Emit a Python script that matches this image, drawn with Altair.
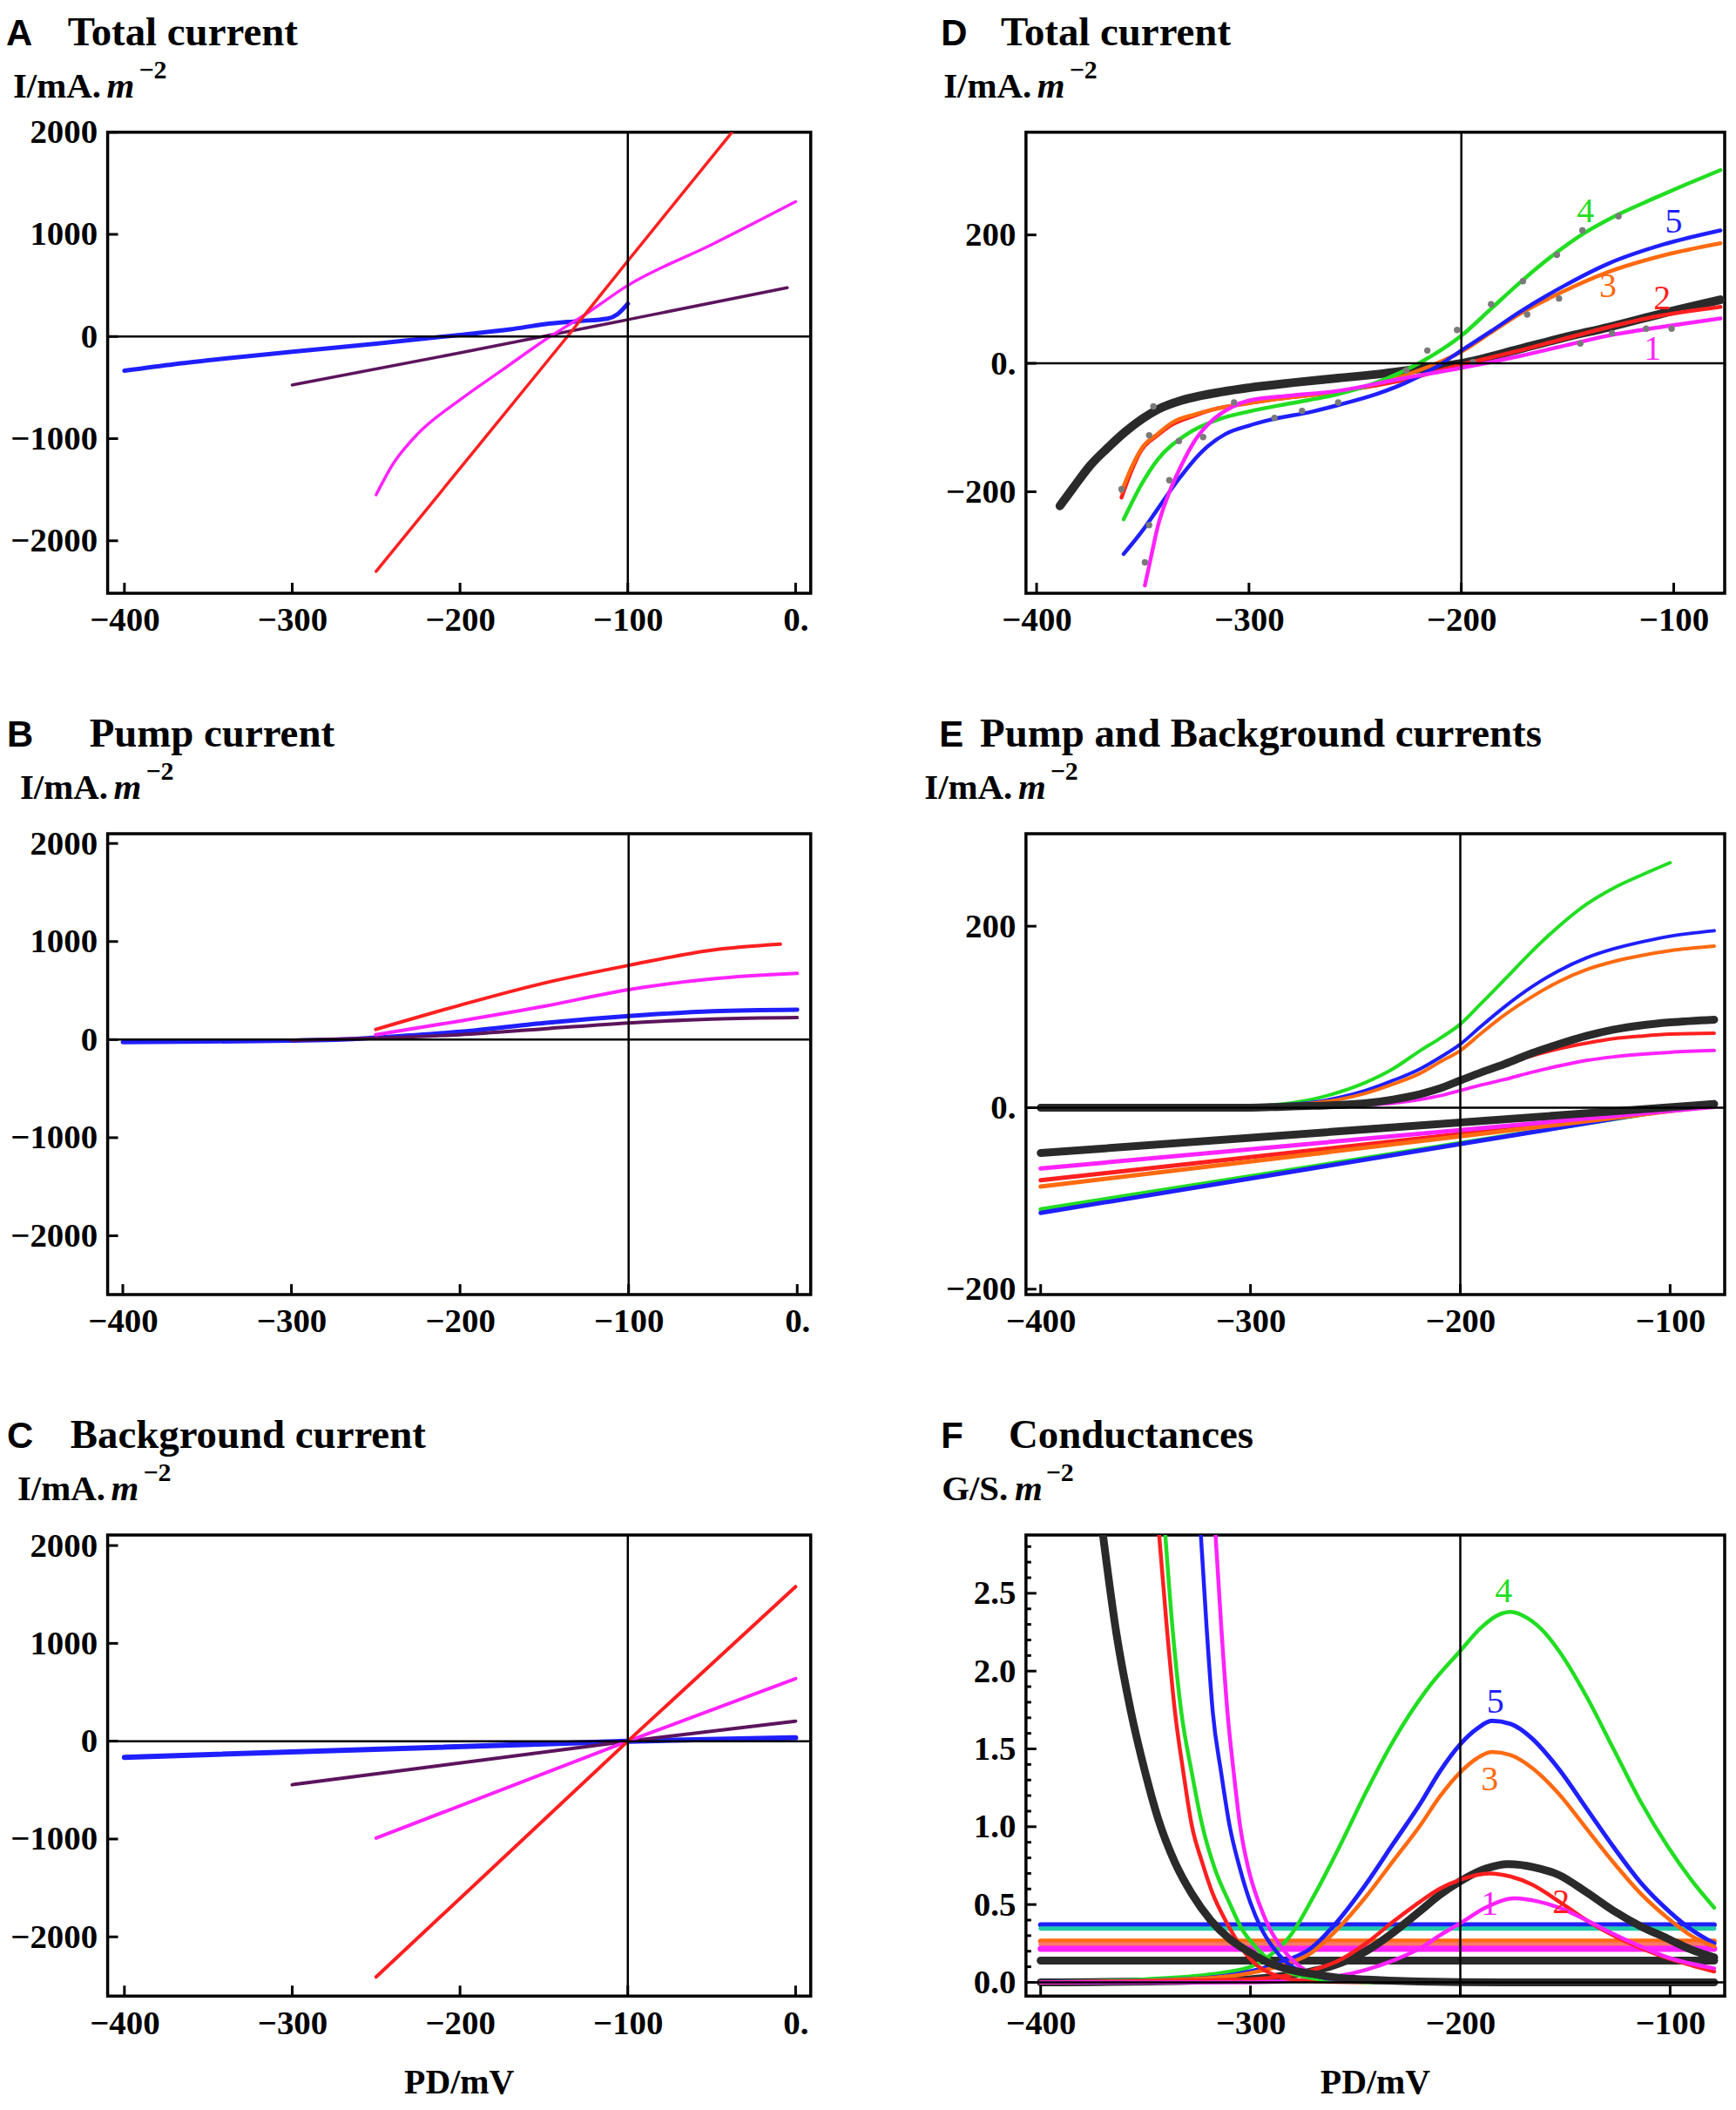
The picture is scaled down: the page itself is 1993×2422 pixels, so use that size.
import altair as alt
import pandas as pd

SERIF = "Liberation Serif"
SANS = "Liberation Sans"

RED = "#ff1f1f"
MAGENTA = "#ff22ff"
BLUE = "#1f1fff"
PURPLE = "#5c145c"
GREEN = "#22dd22"
ORANGE = "#ff6a10"
DARK = "#2a2a2a"
DOTC = "#7a7a7a"

H = 531
W_LEFT = 810
W_RIGHT = 805

# ---------------- Panel A : Total current ----------------
A_blue_x = [-400, -370, -340, -300, -250, -200, -170, -150, -130, -112, -106, -100]
A_blue_y = [-335, -270, -215, -150, -70, 15, 70, 120, 150, 175, 220, 320]
A_purple_x = [-300, -200, -100, -5]
A_purple_y = [-475, -160, 165, 478]
A_magenta_x = [-250, -240, -225, -200, -175, -150, -125, -100, -50, 0]
A_magenta_y = [-1550, -1250, -950, -620, -330, -40, 220, 500, 900, 1320]
A_red_x = [-250, -136, -100, -30]
A_red_y = [-2300, 0, 740, 2160]

# ---------------- Panel B : Pump current ----------------
B_blue_x = [-400, -350, -300, -270, -250, -200, -150, -100, -50, 0]
B_blue_y = [-25, -20, -10, 0, 20, 80, 170, 240, 290, 305]
B_purple_x = [-300, -250, -200, -150, -100, -50, 0]
B_purple_y = [-5, 15, 50, 110, 170, 210, 225]
B_magenta_x = [-250, -200, -150, -100, -50, 0]
B_magenta_y = [50, 190, 340, 510, 620, 675]
B_red_x = [-250, -200, -150, -100, -50, -10]
B_red_y = [104, 351, 577, 757, 914, 973]

# ---------------- Panel C : Background current ----------------
C_blue_x = [-400, -100, 0]
C_blue_y = [-165, 0, 35]
C_purple_x = [-300, -100, 0]
C_purple_y = [-445, 0, 205]
C_magenta_x = [-250, -100, 0]
C_magenta_y = [-990, 0, 640]
C_red_x = [-250, -100, 0]
C_red_y = [-2410, 0, 1580]

# ---------------- Panel D : Total current (cells 1-5) ----------------
D_black_x = [-389, -383, -375, -366, -358, -350, -343, -332, -322, -300, -279, -258, -237, -216,
             -200, -173, -152, -131, -105, -78]
D_black_y = [-222, -195, -160, -130, -106, -86, -72, -58, -50, -38, -30, -23, -16, -7,
             0, 22, 40, 56, 78, 99]
D_red_x = [-360, -355, -351, -343, -336, -326, -317, -300, -290, -258, -226, -200, -175, -152,
           -131, -110, -78]
D_red_y = [-209, -165, -137, -112, -95, -82, -72, -62, -57, -44, -25, -2, 18, 38, 56, 72, 88]
D_orange_x = [-360, -355, -350, -343, -336, -326, -317, -300, -290, -258, -240, -226, -213, -200,
              -186, -173, -152, -131, -105, -78]
D_orange_y = [-200, -160, -130, -110, -92, -80, -72, -62, -57, -44, -32, -18, -2, 18,
              48, 76, 112, 142, 168, 187]
D_green_x = [-359, -350, -343, -330, -315, -300, -280, -258, -240, -220, -200, -186, -173, -157,
             -142, -126, -110, -94, -78]
D_green_y = [-243, -185, -150, -112, -88, -75, -62, -48, -30, 0, 43, 85, 124, 168,
             203, 232, 256, 279, 301]
D_blue_x = [-359, -350, -343, -333, -322, -311, -300, -290, -270, -258, -240, -226, -213, -200,
            -186, -173, -152, -131, -105, -78]
D_blue_y = [-297, -260, -227, -180, -137, -110, -97, -88, -75, -65, -48, -30, -8, 20,
            50, 79, 120, 155, 185, 207]
D_magenta_x = [-349, -346, -343, -338, -332, -325, -317, -308, -300, -280, -258, -230, -200,
               -173, -152, -131, -105, -78]
D_magenta_y = [-346, -300, -255, -205, -160, -118, -88, -68, -58, -50, -43, -25, -7,
               11, 27, 43, 57, 70]
D_dots_x = [-347, -333, -337.5, -347, -349, -360, -321.6, -345, -307, -288, -275, -258,
            -216, -202, -186, -171, -155, -143, -126, -169, -154, -144, -129, -113, -101, -194.5, -226]
D_dots_y = [-112, -121, -182, -252, -310, -196, -115, -67, -61, -85, -74, -61,
            20, 52, 92, 128, 169, 207, 229, 76, 101, 31, 47, 54, 54, 2, -11]
D_lab_t = ["1", "2", "3", "4", "5"]
D_lab_x = [-110, -105.5, -131, -141.5, -100]
D_lab_y = [22, 101, 119, 236, 220]

# ---------------- Panel E : Pump and Background currents ----------------
E_p_green_x = [-400, -320, -300, -285, -271, -258, -245, -232, -219, -210, -200, -190, -179,
               -166, -153, -140, -127, -113, -100]
E_p_green_y = [0, 0, 1, 4, 9, 17, 28, 43, 63, 76, 92, 115, 141, 172, 200, 224, 242, 257, 270]
E_p_x = [-400, -320, -300, -285, -270, -258, -245, -232, -219, -210, -200, -190, -179,
         -166, -153, -140, -127, -113, -100, -79]
E_p_blue_y = [0, 0, 1, 3, 6, 11, 19, 30, 43, 55, 70, 90, 111, 133, 151, 165, 175, 183, 189, 195]
E_p_orange_y = [0, 0, 1, 2, 5, 9, 16, 26, 38, 50, 63, 82, 102, 122, 139, 152, 161, 168, 173, 178]
E_p_black_y = [0, 0, 0, 1, 2, 3, 5, 9, 15, 21, 30, 39, 48, 60, 70, 79, 86, 91, 94, 97]
E_p_red_y = [0, 0, 0, 1, 2, 3, 5, 9, 15, 21, 30, 38, 47, 57, 65, 71, 76, 79, 81, 82]
E_p_magenta_y = [0, 0, 0, 0, 1, 1.5, 3, 5, 9, 13, 19, 25, 31, 39, 46, 52, 56, 59, 61, 63]
E_b_x = [-400, -79]
E_b_black_y = [-50, 4]
E_b_magenta_y = [-67, 1]
E_b_red_y = [-80, 2]
E_b_orange_y = [-87, 2]
E_b_green_y = [-112, 5]
E_b_blue_y = [-116, 6]

# ---------------- Panel F : Conductances ----------------
F_e_black_x = [-371, -364, -357, -350, -344, -336, -328, -319, -310, -300, -292, -281, -271,
               -258, -245, -220, -180, -79]
F_e_black_y = [2.95, 2.25, 1.74, 1.34, 1.05, 0.77, 0.57, 0.40, 0.28, 0.19, 0.13, 0.08, 0.055,
               0.03, 0.018, 0.006, 0.0, 0.0]
F_e_red_x = [-344, -340, -336, -332, -328, -323, -318, -312, -307, -302, -297, -289, -281,
             -265, -240, -79]
F_e_red_y = [2.95, 2.3, 1.74, 1.35, 1.01, 0.77, 0.57, 0.40, 0.28, 0.18, 0.11, 0.05, 0.02,
             0.005, 0.0, 0.0]
F_e_green_x = [-341, -337, -333, -328, -323, -317, -310, -304, -297, -289, -281, -270, -258,
               -240, -79]
F_e_green_y = [2.95, 2.25, 1.74, 1.35, 1.01, 0.73, 0.51, 0.34, 0.22, 0.12, 0.06, 0.025, 0.01,
               0.0, 0.0]
F_e_blue_x = [-324, -321, -318, -314, -310, -305, -300, -295, -289, -283, -276, -267, -258,
              -240, -79]
F_e_blue_y = [2.95, 2.3, 1.74, 1.35, 1.01, 0.73, 0.51, 0.35, 0.22, 0.13, 0.07, 0.035, 0.015,
              0.003, 0.0]
F_e_magenta_x = [-317, -314, -311, -308, -305, -301, -296, -291, -285, -279, -273, -265, -258,
                 -240, -79]
F_e_magenta_y = [2.95, 2.3, 1.74, 1.35, 1.01, 0.73, 0.51, 0.35, 0.22, 0.13, 0.07, 0.035, 0.015,
                 0.003, 0.0]

F_b_green_x = [-400, -350, -320, -300, -290, -281, -270, -258, -245, -232, -216, -200, -190,
               -182, -176, -168, -160, -153, -140, -127, -114, -101, -90, -79]
F_b_green_y = [0.0, 0.02, 0.05, 0.10, 0.18, 0.30, 0.55, 0.86, 1.22, 1.55, 1.88, 2.13, 2.28,
               2.36, 2.38, 2.34, 2.25, 2.13, 1.84, 1.50, 1.16, 0.87, 0.66, 0.48]
F_b_x = [-400, -330, -300, -285, -271, -258, -245, -232, -219, -210, -200, -192, -185, -176,
         -166, -153, -140, -127, -114, -100, -90, -79]
F_b_blue_y = [0.0, 0.02, 0.07, 0.13, 0.22, 0.40, 0.63, 0.89, 1.15, 1.35, 1.53, 1.63, 1.68,
              1.66, 1.57, 1.37, 1.12, 0.87, 0.64, 0.45, 0.34, 0.25]
F_b_orange_y = [0.0, 0.02, 0.06, 0.11, 0.19, 0.35, 0.55, 0.78, 1.01, 1.19, 1.35, 1.44, 1.48,
                1.46, 1.38, 1.21, 0.99, 0.77, 0.57, 0.40, 0.30, 0.23]
F_b_black_x = [-400, -330, -300, -285, -271, -258, -245, -232, -219, -210, -200, -188, -177,
               -165, -153, -140, -127, -114, -101, -90, -79]
F_b_black_y = [0.0, 0.01, 0.02, 0.04, 0.07, 0.12, 0.20, 0.32, 0.46, 0.56, 0.65, 0.73, 0.76,
               0.74, 0.69, 0.58, 0.46, 0.36, 0.28, 0.21, 0.16]
F_b_red_x = [-400, -300, -280, -270, -258, -245, -232, -219, -210, -200, -186, -176, -166,
             -153, -140, -127, -114, -100, -90, -79]
F_b_red_y = [0.0, 0.02, 0.05, 0.08, 0.14, 0.25, 0.39, 0.52, 0.60, 0.66, 0.70, 0.68, 0.63,
             0.52, 0.40, 0.30, 0.22, 0.15, 0.11, 0.07]
F_b_magenta_x = [-400, -300, -270, -258, -245, -232, -219, -210, -200, -188, -174, -163, -153,
                 -140, -127, -114, -101, -90, -79]
F_b_magenta_y = [0.0, 0.0, 0.02, 0.04, 0.08, 0.14, 0.22, 0.30, 0.38, 0.48, 0.54, 0.52, 0.48,
                 0.40, 0.31, 0.23, 0.16, 0.12, 0.09]
F_h_x = [-400, -79]
F_h_blue = 0.37
F_h_green = 0.345
F_h_orange = 0.265
F_h_red = 0.245
F_h_magenta = 0.215
F_h_black = 0.14
F_lab_t = ["4", "5", "3", "1", "2"]
F_lab_x = [-179.4, -183.3, -186, -186, -152]
F_lab_y = [2.51, 1.80, 1.30, 0.50, 0.51]

# tick values
XT_A = [-400, -300, -200, -100, 0]
YT_A = [-2000, -1000, 0, 1000, 2000]
XT_D = [-400, -300, -200, -100]
YT_D = [-200, 0, 200]
YT_F = [0.0, 0.5, 1.0, 1.5, 2.0, 2.5]
YT_F_MINOR = [0.1, 0.2, 0.3, 0.4, 0.6, 0.7, 0.8, 0.9, 1.1, 1.2, 1.3, 1.4, 1.6, 1.7, 1.8, 1.9,
              2.1, 2.2, 2.3, 2.4, 2.6, 2.7, 2.8]


def mk_axis(values, fmt, zero_dot, pad):
    kw = dict(values=values, format=fmt, ticks=False, domain=False, grid=False,
              labelFont=SERIF, labelFontSize=39, labelFontWeight="bold", labelColor="black",
              labelPadding=pad, title=None, labelOverlap=False, labelFlush=False)
    if zero_dot:
        kw["labelExpr"] = "datum.value == 0 ? '0.' : datum.label"
    return alt.Axis(**kw)


def txt(s, x, y, size, font=SERIF, weight="bold", style="normal", align="left", color="black"):
    return alt.Chart(pd.DataFrame({"t": [s]})).mark_text(
        font=font, fontSize=size, fontWeight=weight, fontStyle=style, align=align,
        baseline="alphabetic", color=color
    ).encode(x=alt.value(x), y=alt.value(y), text="t:N")


def headers(letter, lx, title, tx, ylab, yx, W, xlabel=False):
    out = [txt(letter, lx, -100, 42, font=SANS),
           txt(title, tx, -100, 47)]
    if ylab.startswith("G"):
        dm, ds = 84, 120
    else:
        dm, ds = 108, 145
    out += [txt(ylab, yx, -40, 41),
            txt("m", yx + dm, -40, 41, style="italic"),
            txt("\u22122", yx + ds, -62, 30)]
    if xlabel:
        out.append(txt("PD/mV", W / 2, H + 112, 40, align="center"))
    return out


def panel(W, xdom, ydom, xt, yt, x0, series, yfmt, xzero, yzero, heads,
          minor=None, dots=None, notes=None, top=None):
    xs = alt.Scale(domain=xdom, nice=False, zero=False)
    ys = alt.Scale(domain=ydom, nice=False, zero=False)
    xax = mk_axis(xt, "d", xzero, 12)
    yax = mk_axis(yt, yfmt, yzero, 12)

    def X():
        return alt.X("x:Q", scale=xs, axis=xax)

    def Y():
        return alt.Y("y:Q", scale=ys, axis=yax)

    def lines(ss):
        out = []
        for xv, yv, col, w in ss:
            out.append(
                alt.Chart(pd.DataFrame({"x": xv, "y": yv})).mark_line(
                    color=col, strokeWidth=w, clip=True, interpolate="monotone", strokeCap="round"
                ).encode(x=X(), y=Y())
            )
        return out

    layers = lines(series)
    if dots is not None:
        layers.append(
            alt.Chart(pd.DataFrame({"x": dots[0], "y": dots[1]})).mark_circle(
                color=DOTC, size=55, opacity=1, clip=True
            ).encode(x=X(), y=Y())
        )
    if top is not None:
        layers += lines(top)
    # axes through the origin
    layers.append(alt.Chart(pd.DataFrame({"x": [x0]})).mark_rule(color="black", strokeWidth=2.5)
                  .encode(x=X()))
    layers.append(alt.Chart(pd.DataFrame({"y": [0]})).mark_rule(color="black", strokeWidth=2.5)
                  .encode(y=Y()))
    # inward frame ticks
    layers.append(alt.Chart(pd.DataFrame({"x": xt})).mark_rule(color="black", strokeWidth=3)
                  .encode(x=X(), y=alt.value(H), y2=alt.value(H - 12)))
    layers.append(alt.Chart(pd.DataFrame({"y": yt})).mark_rule(color="black", strokeWidth=3)
                  .encode(y=Y(), x=alt.value(0), x2=alt.value(12)))
    if minor is not None:
        layers.append(alt.Chart(pd.DataFrame({"y": minor})).mark_rule(color="black", strokeWidth=3)
                      .encode(y=Y(), x=alt.value(0), x2=alt.value(6)))
    if notes is not None:
        for t, nx, ny, col in notes:
            layers.append(
                alt.Chart(pd.DataFrame({"x": [nx], "y": [ny], "t": [t]})).mark_text(
                    font=SERIF, fontSize=40, color=col, align="center", baseline="middle"
                ).encode(x=X(), y=Y(), text="t:N")
            )
    layers += heads
    return alt.layer(*layers).properties(width=W, height=H)


A = panel(W_LEFT, [-410, 9], [-2513, 2000], XT_A, YT_A, -100,
          [(A_blue_x, A_blue_y, BLUE, 5), (A_purple_x, A_purple_y, PURPLE, 3.5),
           (A_magenta_x, A_magenta_y, MAGENTA, 3.5), (A_red_x, A_red_y, RED, 3.5)],
          "d", True, False,
          headers("A", -117, "Total current", -46, "I/mA.", -109, W_LEFT))

B = panel(W_LEFT, [-409, 8], [-2600, 2100], XT_A, YT_A, -100,
          [(B_blue_x, B_blue_y, BLUE, 5), (B_purple_x, B_purple_y, PURPLE, 4),
           (B_magenta_x, B_magenta_y, MAGENTA, 4), (B_red_x, B_red_y, RED, 4)],
          "d", True, False,
          headers("B", -116, "Pump current", -21, "I/mA.", -101, W_LEFT))

C = panel(W_LEFT, [-410, 9], [-2605, 2107], XT_A, YT_A, -100,
          [(C_blue_x, C_blue_y, BLUE, 6), (C_purple_x, C_purple_y, PURPLE, 4),
           (C_magenta_x, C_magenta_y, MAGENTA, 4), (C_red_x, C_red_y, RED, 4)],
          "d", True, False,
          headers("C", -116, "Background current", -43, "I/mA.", -104, W_LEFT, xlabel=True))

D = panel(W_RIGHT, [-405, -76], [-358, 360], XT_D, YT_D, -200,
          [(D_black_x, D_black_y, DARK, 10), (D_red_x, D_red_y, RED, 4.5),
           (D_orange_x, D_orange_y, ORANGE, 4.5), (D_green_x, D_green_y, GREEN, 4.5),
           (D_blue_x, D_blue_y, BLUE, 4.5), (D_magenta_x, D_magenta_y, MAGENTA, 4.5)],
          "d", False, True,
          headers("D", -98, "Total current", -29, "I/mA.", -95, W_RIGHT),
          dots=(D_dots_x, D_dots_y),
          notes=list(zip(D_lab_t, D_lab_x, D_lab_y, [MAGENTA, RED, ORANGE, GREEN, BLUE])))

E = panel(W_RIGHT, [-407, -74], [-206, 302], XT_D, YT_D, -200,
          [(E_p_green_x, E_p_green_y, GREEN, 4), (E_p_x, E_p_blue_y, BLUE, 4),
           (E_p_x, E_p_orange_y, ORANGE, 4), (E_p_x, E_p_red_y, RED, 4),
           (E_p_x, E_p_magenta_y, MAGENTA, 4),
           (E_b_x, E_b_green_y, GREEN, 5), (E_b_x, E_b_blue_y, BLUE, 5),
           (E_b_x, E_b_red_y, RED, 5), (E_b_x, E_b_orange_y, ORANGE, 5),
           (E_b_x, E_b_magenta_y, MAGENTA, 5),
           (E_b_x, E_b_black_y, DARK, 9), (E_p_x, E_p_black_y, DARK, 9)],
          "d", False, True,
          headers("E", -100, "Pump and Background currents", -53, "I/mA.", -117, W_RIGHT))

F = panel(W_RIGHT, [-407, -74], [-0.088, 2.874], XT_D, YT_F, -200,
          [(F_h_x, [F_h_blue] * 2, BLUE, 6), (F_h_x, [F_h_green] * 2, "#22ccaa", 5),
           (F_h_x, [F_h_orange] * 2, ORANGE, 6), (F_h_x, [F_h_red] * 2, "#ff7766", 5),
           (F_h_x, [F_h_magenta] * 2, MAGENTA, 7), (F_h_x, [F_h_black] * 2, DARK, 9),
           (F_b_black_x, F_b_black_y, DARK, 9),
           (F_b_green_x, F_b_green_y, GREEN, 4.5), (F_b_x, F_b_blue_y, BLUE, 5),
           (F_b_x, F_b_orange_y, ORANGE, 4.5), (F_b_red_x, F_b_red_y, RED, 4.5),
           (F_b_magenta_x, F_b_magenta_y, MAGENTA, 4.5),
           (F_e_red_x, F_e_red_y, RED, 4.5), (F_e_green_x, F_e_green_y, GREEN, 4.5),
           (F_e_blue_x, F_e_blue_y, BLUE, 4.5), (F_e_magenta_x, F_e_magenta_y, MAGENTA, 4.5)],
          ".1f", False, False,
          headers("F", -98, "Conductances", -20, "G/S.", -97, W_RIGHT, xlabel=True),
          minor=YT_F_MINOR,
          notes=list(zip(F_lab_t, F_lab_x, F_lab_y, [GREEN, BLUE, ORANGE, MAGENTA, RED])),
          top=[(F_e_black_x, F_e_black_y, DARK, 9)])

chart = alt.concat(
    A, D, B, E, C, F, columns=2,
    spacing={"row": 277, "column": 248}, bounds="flush", align="each"
).properties(
    padding={"left": -3, "top": 0, "right": 2, "bottom": 2},
    background="white"
).configure_view(stroke="black", strokeWidth=3.5)

chart.save("out.html", embed_options={"renderer": "svg", "actions": False})
